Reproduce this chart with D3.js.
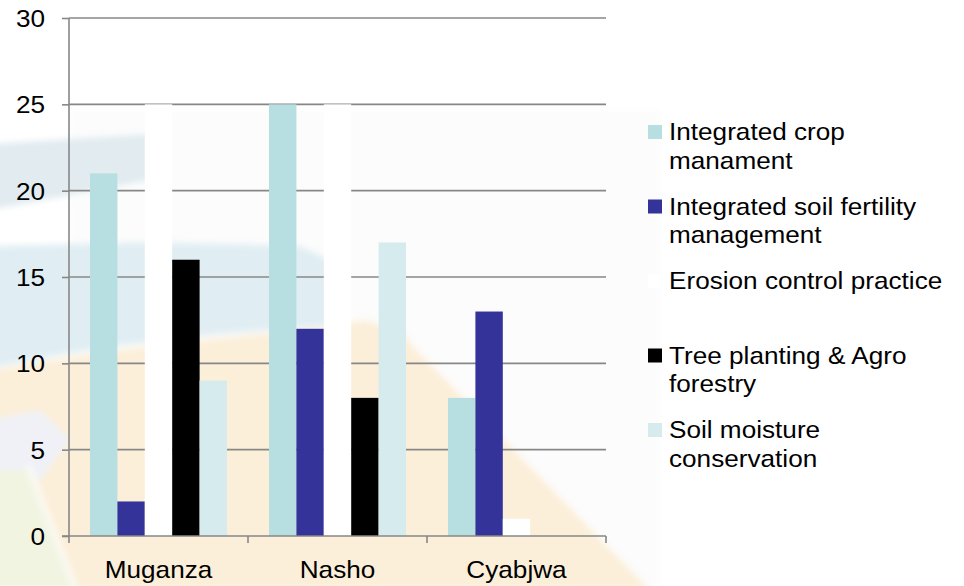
<!DOCTYPE html>
<html>
<head>
<meta charset="utf-8">
<script src="https://cdn.jsdelivr.net/npm/d3@7"></script>
<style>
  html, body { margin: 0; padding: 0; background: #ffffff; }
  svg { display: block; }
  text { font-family: "Liberation Sans", Arial, sans-serif; fill: #000; }
</style>
</head>
<body>
<svg id="chart" width="964" height="586"></svg>
<script>
// Sites, practices and number of adopters per practice
const categories = ["Muganza", "Nasho", "Cyabjwa"];
const series = [
  "Integrated crop manament",
  "Integrated soil fertility management",
  "Erosion control practice",
  "Tree planting & Agro forestry",
  "Soil moisture conservation"
];
const legendLines = [
  ["Integrated crop", "manament"],
  ["Integrated soil fertility", "management"],
  ["Erosion control practice"],
  ["Tree planting & Agro", "forestry"],
  ["Soil moisture", "conservation"]
];
const icmValues  = [21, 25, 8];
const isfmValues = [2, 12, 13];
const erosionValues = [25, 25, 1];
const treeValues = [16, 8, 0];
const smcValues  = [9, 17, 0];
const yTicks = [0, 5, 10, 15, 20, 25, 30];

const seriesValues = [icmValues, isfmValues, erosionValues, treeValues, smcValues];
const colors = ["#b7dfe2", "#333399", "#ffffff", "#000000", "#d6ebee"];

// text is set slightly wide
const FONT = 24, WIDE = 1.09;

const svg = d3.select("#chart");

// Soft decorative backdrop
const defs = svg.append("defs");
defs.append("filter").attr("id", "soft")
  .attr("x", "-10%").attr("y", "-10%").attr("width", "120%").attr("height", "120%")
  .append("feGaussianBlur").attr("stdDeviation", 3);

const bg = svg.append("g").attr("filter", "url(#soft)");
const poly = (pts, fill) => bg.append("path")
  .attr("d", d3.line()(pts) + "Z").attr("fill", fill);

poly([[70,110],[660,110],[660,586],[70,586]], "#fcfcfc");
poly([[-10,144],[150,134],[150,180],[-10,210]], "#e1ebf0");
poly([[-10,246],[150,242],[300,246],[335,262],[335,325],[220,334],[100,348],[-10,368]], "#e0eef3");
poly([[-10,370],[100,352],[220,338],[335,326],[365,320],[402,332],[412,345],[650,590],[70,590],[30,470],[-10,470]], "#fcefd9");
poly([[-10,420],[40,410],[70,440],[40,480],[-10,480]], "#eff1f7");
poly([[-10,470],[30,470],[74,590],[-10,590]], "#f2f4e2");
bg.append("path").attr("d", d3.line()([[28,465],[76,590]]))
  .attr("stroke", "#fbfbf6").attr("stroke-width", 5).attr("fill", "none");

// Scales
const x0 = d3.scaleBand().domain(categories).range([69, 606]).padding(0);
const x1 = d3.scaleBand().domain(series).range([0, x0.bandwidth()])
  .paddingInner(0).paddingOuter(0.766);
const y = d3.scaleLinear().domain([0, 30]).range([536, 18]);

// Gridlines
svg.append("g").selectAll("line").data(yTicks.filter(t => t > 0)).join("line")
  .attr("x1", 69).attr("x2", 606)
  .attr("y1", d => y(d)).attr("y2", d => y(d))
  .attr("stroke", "#878787").attr("stroke-width", 1.6);

// Bars
const groups = svg.append("g").selectAll("g").data(categories).join("g")
  .attr("transform", d => `translate(${x0(d)},0)`);
groups.selectAll("rect")
  .data((c, ci) => series.map((s, si) => ({ s, si, v: seriesValues[si][ci] })))
  .join("rect")
  .attr("x", d => x1(d.s))
  .attr("width", x1.bandwidth())
  .attr("y", d => y(d.v))
  .attr("height", d => y(0) - y(d.v))
  .attr("fill", d => colors[d.si]);

// Y axis
const yAxis = d3.axisLeft(y).tickValues(yTicks).tickSize(7);
const gy = svg.append("g").attr("transform", "translate(69,0)").call(yAxis);
gy.select(".domain").attr("d", "M0,18V543").attr("stroke", "#878787").attr("stroke-width", 1.6);
gy.selectAll(".tick line").attr("stroke", "#878787").attr("stroke-width", 1.6);
gy.selectAll(".tick text")
  .attr("x", 0).attr("dy", "0.35em")
  .attr("transform", `translate(-24,0) scale(${WIDE},1)`)
  .attr("font-size", FONT).attr("font-family", "Liberation Sans, Arial, sans-serif")
  .attr("fill", "#000");

// X axis
const xAxis = d3.axisBottom(x0).tickSize(0);
const gx = svg.append("g").attr("transform", "translate(0,536)").call(xAxis);
gx.select(".domain").attr("d", "M62,0H606").attr("stroke", "#878787").attr("stroke-width", 1.6);
gx.selectAll(".tick text")
  .attr("y", 0).attr("dy", "0.71em")
  .attr("transform", `translate(0,25) scale(${WIDE},1)`)
  .attr("font-size", FONT).attr("font-family", "Liberation Sans, Arial, sans-serif")
  .attr("fill", "#000");
// category boundary ticks
const bounds = categories.map(c => x0(c)).concat([x0(categories[categories.length - 1]) + x0.bandwidth()]);
gx.append("g").selectAll("line").data(bounds.slice(1)).join("line")
  .attr("x1", d => d).attr("x2", d => d).attr("y1", 0).attr("y2", 7)
  .attr("stroke", "#878787").attr("stroke-width", 1.6);

// Legend
const legend = svg.append("g").attr("transform", "translate(648,0)");
const items = legend.selectAll("g").data(series).join("g")
  .attr("transform", (d, i) => `translate(0,${140 + i * 74.5})`);
items.append("rect").attr("x", 0).attr("y", -15).attr("width", 14).attr("height", 14)
  .attr("fill", (d, i) => colors[i]);
items.append("text")
  .attr("transform", `translate(21,0) scale(${WIDE},1)`)
  .attr("font-size", FONT)
  .selectAll("tspan").data((d, i) => legendLines[i]).join("tspan")
  .attr("x", 0).attr("dy", (d, j) => j === 0 ? 0 : 29).text(d => d);
</script>
</body>
</html>
